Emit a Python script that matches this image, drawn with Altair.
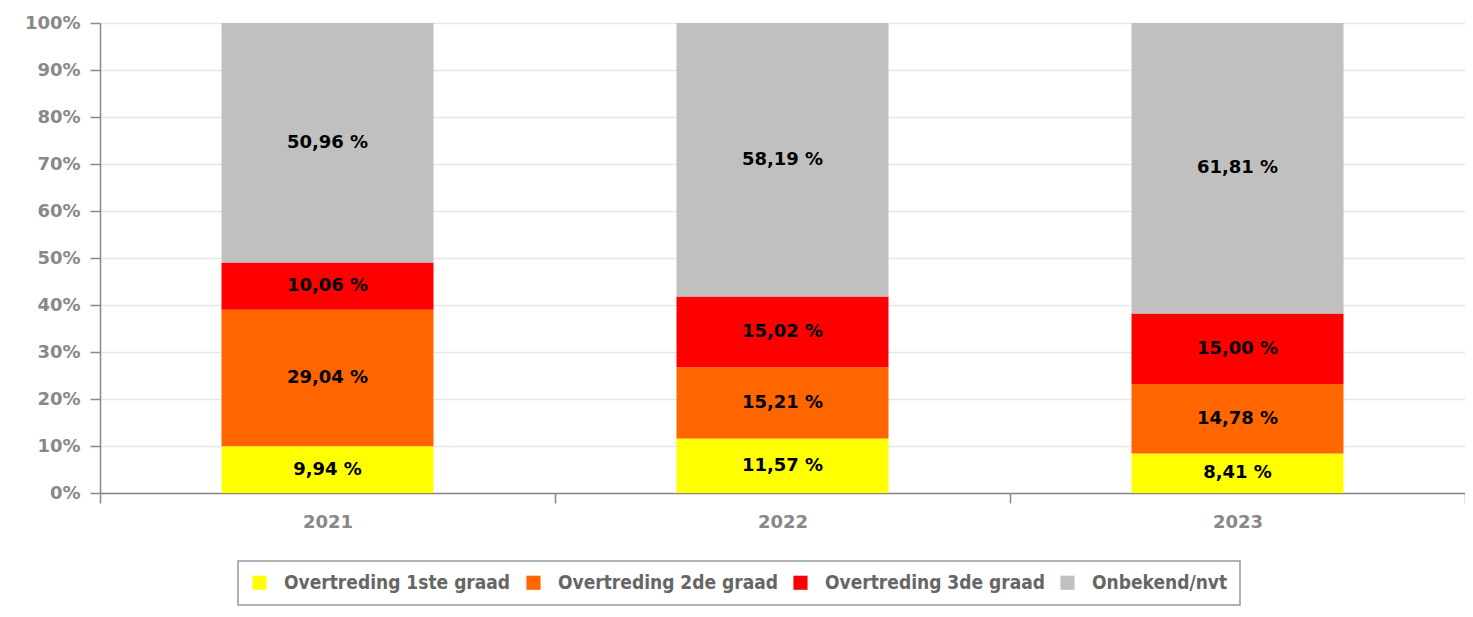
import altair as alt
import pandas as pd

years = ["2021", "2022", "2023"]
categories = ["Overtreding 1ste graad", "Overtreding 2de graad", "Overtreding 3de graad", "Onbekend/nvt"]
colors = ["#FFFF00", "#FF6600", "#FF0000", "#C0C0C0"]
v_1ste = [9.94, 11.57, 8.41]
v_2de = [29.04, 15.21, 14.78]
v_3de = [10.06, 15.02, 15.00]
v_onb = [50.96, 58.19, 61.81]

rows = []
for ci, (cat, vals) in enumerate(zip(categories, [v_1ste, v_2de, v_3de, v_onb])):
    for y, v in zip(years, vals):
        rows.append({"year": y, "cat": cat, "order": ci, "value": v,
                     "label": f"{v:.2f}".replace(".", ",") + " %"})
df = pd.DataFrame(rows)

base = alt.Chart(df).transform_stack(
    stack="value", groupby=["year"], sort=[alt.SortField("order", order="ascending")], as_=["y0", "y1"]
).transform_calculate(mid="(datum.y0 + datum.y1) / 2")

xenc = alt.X("year:N", title=None, scale=alt.Scale(paddingInner=0, paddingOuter=0),
             axis=alt.Axis(labelAngle=0, tickBand="extent", domainColor="#888888", tickColor="#888888",
                           tickSize=10, labelColor="#888888", labelFont="DejaVu Sans", labelFontWeight="bold",
                           labelFontSize=18, labelPadding=10, grid=False, domainWidth=1.5, tickWidth=1.5))

bars = base.mark_bar(width=212).encode(
    x=xenc,
    y=alt.Y("y0:Q", title=None, scale=alt.Scale(domain=[0, 100], nice=False),
            axis=alt.Axis(values=list(range(0, 101, 10)), labelExpr="datum.value + '%'",
                          gridColor="#e6e6e6", gridWidth=1.5, domainColor="#888888", tickColor="#888888",
                          tickSize=10, labelColor="#888888", labelFont="DejaVu Sans", labelFontWeight="bold",
                          labelFontSize=18, labelPadding=10, domainWidth=1.5, tickWidth=1.5)),
    y2="y1:Q",
    color=alt.Color("cat:N", scale=alt.Scale(domain=categories, range=colors), sort=categories,
                    legend=alt.Legend(title=None, orient="none", legendX=138, legendY=538,
                                      direction="horizontal", columns=4, symbolType="square",
                                      symbolSize=200, symbolStrokeWidth=0, symbolOpacity=1,
                                      labelFont="DejaVu Sans Condensed", labelFontWeight="bold",
                                      labelFontSize=19, labelColor="#666666", labelOffset=15,
                                      columnPadding=13, padding=12, strokeColor="#999999",
                                      labelLimit=400)),
)

texts = base.mark_text(font="DejaVu Sans", fontWeight="bold", fontSize=18, color="#000000", baseline="middle").encode(
    x=alt.X("year:N"),
    y=alt.Y("mid:Q"),
    text="label:N",
)

chart = alt.layer(bars, texts).properties(
    width=1365, height=470,
    autosize=alt.AutoSizeParams(type="none"),
    padding={"left": 92, "top": 15, "right": 0, "bottom": 116},
).configure_view(stroke=None).configure_legend(strokeWidth=1.5)

chart.save("out.html", embed_options={"renderer": "svg", "actions": False})
